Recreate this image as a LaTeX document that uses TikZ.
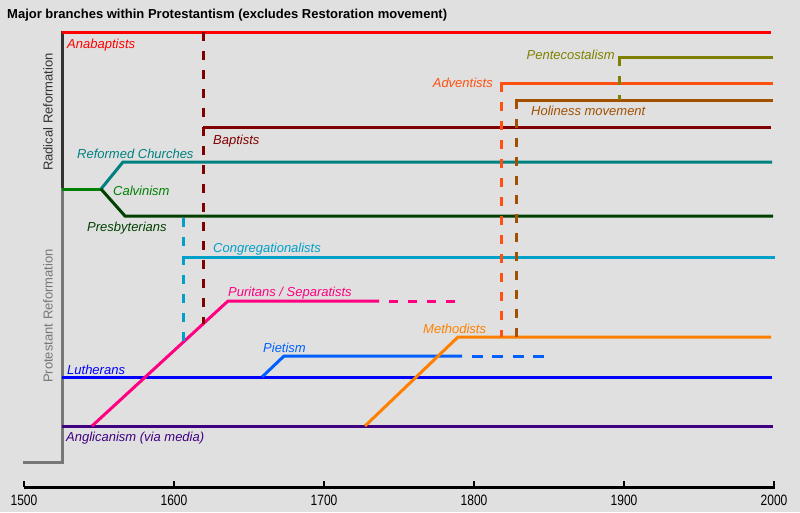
\documentclass[tikz,border=0pt]{standalone}
\usepackage{fontspec}
\setmainfont{Liberation Sans}
\definecolor{bgc}{HTML}{E0E0E0}
\definecolor{cana}{HTML}{FF0000}
\definecolor{cpen}{HTML}{808000}
\definecolor{cadv}{HTML}{FF5010}
\definecolor{chol}{HTML}{A05000}
\definecolor{cbap}{HTML}{800000}
\definecolor{cref}{HTML}{008080}
\definecolor{ccal}{HTML}{008000}
\definecolor{cpre}{HTML}{004000}
\definecolor{ccon}{HTML}{00A0C8}
\definecolor{cpur}{HTML}{FF0080}
\definecolor{cmet}{HTML}{FF8000}
\definecolor{cpie}{HTML}{0060FF}
\definecolor{clut}{HTML}{0000FF}
\definecolor{cang}{HTML}{400080}
\definecolor{cdark}{HTML}{333333}
\definecolor{cgray}{HTML}{777777}
\begin{document}
\begin{tikzpicture}[x=1pt,y=-1pt,
  br/.style={line width=3pt},
  dsh/.style={line width=3pt, dash pattern=on 9pt off 10pt},
  lbl/.style={font=\fontsize{13}{15}\selectfont\itshape, inner sep=0pt, anchor=base west},
  lblr/.style={lbl, anchor=base east},
  side/.style={font=\fontsize{13}{15}\selectfont, inner sep=0pt, rotate=90, anchor=center},
  yr/.style={font=\fontsize{15}{17}\selectfont, inner sep=0pt, anchor=base},
  tick/.style={line width=2pt, black}]
\fill[bgc] (0,0) rectangle (800,512);
\useasboundingbox (0,0) rectangle (800,512);

% title
\node[font=\fontsize{13}{15}\selectfont\bfseries, inner sep=0pt, anchor=base west] (title) at (7,18) {Major branches within Protestantism (excludes Restoration movement)};

% left bar
\coordinate (barTop) at (62,31);
\coordinate (barMid) at (62,188);
\coordinate (barBot) at (62,462);
\coordinate (barEnd) at (23,462);
\draw[cdark, line width=3pt] (barTop) -- (barMid);
\draw[cgray, line width=3pt, line join=miter] (barMid) -- (barBot) -- (barEnd);
\node[side, text=cdark] (radical) at (48,112) {Radical Reformation};
\node[side, text=cgray] (protestant) at (48,316) {Protestant Reformation};

% coordinates
\coordinate (anaS) at (62,32);   \coordinate (anaE) at (771,32);
\coordinate (penS) at (619,100); \coordinate (penC) at (619,57);  \coordinate (penE) at (771,57);
\coordinate (advS) at (501,337); \coordinate (advC) at (501,83);  \coordinate (advE) at (771,83);
\coordinate (holS) at (516,337); \coordinate (holC) at (516,100); \coordinate (holE) at (771,100);
\coordinate (bapS) at (203,32);  \coordinate (bapB) at (203,324);
\coordinate (bapC) at (203,127); \coordinate (bapE) at (771,127);
\coordinate (calS) at (62,189);  \coordinate (calC) at (101,189);
\coordinate (refC) at (123,162); \coordinate (refE) at (772,162);
\coordinate (preC) at (125,216); \coordinate (preE) at (773,216);
\coordinate (conT) at (183,218); \coordinate (conB) at (183,341);
\coordinate (conC) at (183,257); \coordinate (conE) at (773,257);
\coordinate (purS) at (92,426);  \coordinate (purC) at (228,301);
\coordinate (purM) at (379,301); \coordinate (purE) at (455,301);
\coordinate (pieS) at (262,377); \coordinate (pieC) at (284,356);
\coordinate (pieM) at (462,356); \coordinate (pieE) at (545,356);
\coordinate (lutS) at (62,377);  \coordinate (lutE) at (772,377);
\coordinate (metS) at (365,426); \coordinate (metC) at (458,337); \coordinate (metE) at (771,337);
\coordinate (angS) at (62,426);  \coordinate (angE) at (773,426);

% horizontal lines
\draw[br, cana] (anaS) -- (anaE);
\draw[br, cpen, line cap=rect] (penC) -- (penE);
\draw[br, cadv, line cap=rect] (advC) -- (advE);
\draw[br, chol, line cap=rect] (holC) -- (holE);
\draw[br, cbap] (bapC) -- (bapE);
\draw[br, ccal] (calS) -- (calC);
\draw[br, cref] (calC) -- (refC) -- (refE);
\draw[br, cpre] (calC) -- (preC) -- (preE);
\draw[br, ccon, line cap=rect] (conC) -- (conE);
\draw[br, clut] (lutS) -- (lutE);
\draw[br, cang] (angS) -- (angE);
\draw[br, cpie] (pieS) -- (pieC) -- (pieM);
\draw[br, cpie, dash pattern=on 11pt off 9.5pt, dash phase=11pt] (pieM) -- (pieE);
\draw[br, cpur] (purS) -- (purC) -- (purM);
\draw[dsh, cpur, dash phase=9pt] (purM) -- (purE);
\draw[br, cmet] (metS) -- (metC) -- (metE);

% dashed verticals
\draw[dsh, cbap] (bapS) -- (bapB);
\draw[dsh, ccon] (conT) -- (conB);
\draw[dsh, cadv] (advC) -- (advS);
\draw[dsh, chol] (holC) -- (holS);
\draw[dsh, cpen] (penC) -- (penS);

% labels
\node[lbl, text=cana] (lana) at (67,48) {Anabaptists};
\node[lblr, text=cpen] (lpen) at (615,59) {Pentecostalism};
\node[lblr, text=cadv] (ladv) at (493,87) {Adventists};
\node[lbl, text=chol] (lhol) at (531,115) {Holiness movement};
\node[lbl, text=cbap] (lbap) at (213,144) {Baptists};
\node[lbl, text=cref] (lref) at (77,158) {Reformed Churches};
\node[lbl, text=ccal] (lcal) at (113,195) {Calvinism};
\node[lbl, text=cpre] (lpre) at (87,231) {Presbyterians};
\node[lbl, text=ccon] (lcon) at (213,252) {Congregationalists};
\node[lbl, text=cpur] (lpur) at (228,296) {Puritans / Separatists};
\node[lbl, text=cmet] (lmet) at (423,333) {Methodists};
\node[lbl, text=cpie] (lpie) at (263,352) {Pietism};
\node[lbl, text=clut] (llut) at (67,374) {Lutherans};
\node[lbl, text=cang] (lang) at (66,441) {Anglicanism (via media)};

% axis
\coordinate (axS) at (24,487);
\coordinate (axE) at (775,487);
\draw[black, line width=3pt] (axS) -- (axE);
\foreach \i/\yl in {0/1500,1/1600,2/1700,3/1800,4/1900,5/2000}{
  \coordinate (t\i) at ({24+150*\i},481);
  \coordinate (b\i) at ({24+150*\i},487);
  \draw[tick] (t\i) -- (b\i);
  \node[yr] (y\i) at ({24+150*\i},505) {\scalebox{0.8}[1]{\yl}};
}
\end{tikzpicture}
\end{document}
